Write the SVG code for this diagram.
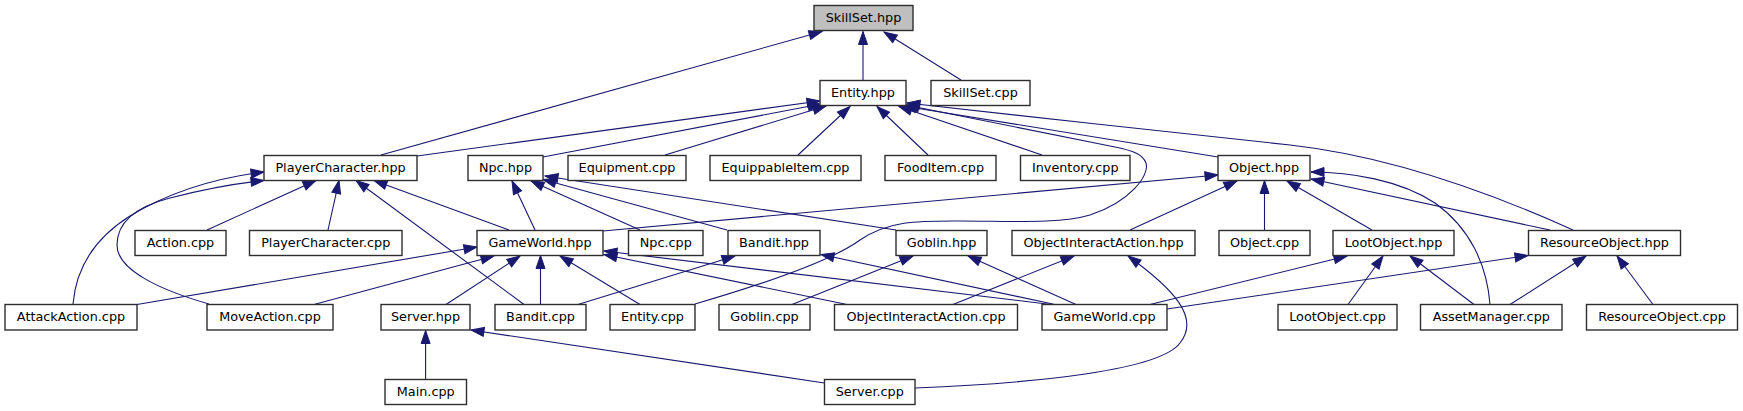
<svg xmlns="http://www.w3.org/2000/svg" width="1743" height="411" viewBox="0 0 1743 411">
<style>
.n rect{fill:#ffffff;stroke:#2e2e2e;stroke-width:1.4}
.n.root rect{fill:#bfbfbf}
.n text{font-family:"DejaVu Sans","Liberation Sans",sans-serif;font-size:12.8px;fill:#000;text-anchor:middle}
.e path{fill:none;stroke:#191970;stroke-width:1.1;marker-end:url(#ah)}
</style>
<defs>
<marker id="ah" markerUnits="userSpaceOnUse" markerWidth="16" markerHeight="12" refX="13" refY="4.5" orient="auto" overflow="visible">
<path d="M0,0 L13,4.5 L0,9 Z" fill="#191970" stroke="#191970" stroke-width="1"/>
</marker>
</defs>
<rect width="1743" height="411" fill="#ffffff"/>
<g id="edges" class="e">
<path d="M863,80 L863,31.5"/>
<path d="M961,80 L884,32"/>
<path d="M381,155 L822,31.5"/>
<path d="M417,156 L820,101"/>
<path d="M543,157 L821,104"/>
<path d="M665,155 L826,106"/>
<path d="M798,155 L850,106.5"/>
<path d="M928,155 L877,106.5"/>
<path d="M1042,155 L899,106.5"/>
<path d="M1218,157 L903,106"/>
<path d="M695,304 C760,285 830,262 860,240 C890,220 920,221 960,221 C1010,221 1060,224 1090,215 C1130,202 1150,175 1146,163 C1143,155 1135,151 1115,147 L906,105"/>
<path d="M1573,230 C1480,188 1380,155 1290,145 C1200,135 1000,114 907,103"/>
<path d="M207,230 L316,180.5"/>
<path d="M328,230 L339,180.5"/>
<path d="M524,304.5 L356,180.5"/>
<path d="M509,230 L374,180.5"/>
<path d="M73,304 C76,268 95,238 130,216 C168,193 215,178 264,172"/>
<path d="M209,304 C160,290 117,270 117,245 C117,222 135,207 170,198 C205,189 240,183 264,180.5"/>
<path d="M535,230 L512,181"/>
<path d="M640,230 L531,181"/>
<path d="M727,230 L543,179.5"/>
<path d="M896,230 L545,176"/>
<path d="M603,231 L1218,175"/>
<path d="M137,304.5 L477,247"/>
<path d="M314,304.5 L494,256"/>
<path d="M446,304.5 L520,256"/>
<path d="M540.5,304.5 L540.5,255.5"/>
<path d="M640,304.5 L560,256"/>
<path d="M847,304.5 L604,254.5"/>
<path d="M1051,304.5 L604,251"/>
<path d="M578,304.5 L735,256"/>
<path d="M1055,304.5 L821,254.5"/>
<path d="M792,304.5 L913,256"/>
<path d="M1076,304.5 L968,256"/>
<path d="M1130,230 L1237,181"/>
<path d="M953,304.5 L1074,256"/>
<path d="M915,388 C1040,383 1160,370 1180,343 C1200,318 1175,290 1128,256"/>
<path d="M1264.5,230 L1264.5,180.5"/>
<path d="M1372,230 L1287,181"/>
<path d="M1550,230 L1311,179"/>
<path d="M1490,304.5 C1487,265 1470,228 1435,203 C1400,180 1350,172 1311,172"/>
<path d="M1150,304.5 L1347,256"/>
<path d="M1348,304.5 L1383,256"/>
<path d="M1474,304.5 L1410,256"/>
<path d="M1167,309 L1528,255.5"/>
<path d="M1510,304.5 L1586,256"/>
<path d="M1653,304.5 L1617,256"/>
<path d="M425.6,379.5 L425.6,330.5"/>
<path d="M824.5,383 L471,330"/>
</g>
<g id="n_skillset_hpp" class="n root"><rect x="814" y="5.5" width="99" height="25"/><text x="863.5" y="22">SkillSet.hpp</text></g>
<g id="n_entity_hpp" class="n"><rect x="820" y="80.5" width="86" height="25"/><text x="863" y="97">Entity.hpp</text></g>
<g id="n_skillset_cpp" class="n"><rect x="931" y="80.5" width="99" height="25"/><text x="980.5" y="97">SkillSet.cpp</text></g>
<g id="n_playercharacter_hpp" class="n"><rect x="264" y="155.5" width="153" height="25"/><text x="340.5" y="172">PlayerCharacter.hpp</text></g>
<g id="n_npc_hpp" class="n"><rect x="468" y="155.5" width="75" height="25"/><text x="505.5" y="172">Npc.hpp</text></g>
<g id="n_equipment_cpp" class="n"><rect x="568" y="155.5" width="118" height="25"/><text x="627" y="172">Equipment.cpp</text></g>
<g id="n_equippableitem_cpp" class="n"><rect x="710" y="155.5" width="151" height="25"/><text x="785.5" y="172">EquippableItem.cpp</text></g>
<g id="n_fooditem_cpp" class="n"><rect x="885" y="155.5" width="111" height="25"/><text x="940.5" y="172">FoodItem.cpp</text></g>
<g id="n_inventory_cpp" class="n"><rect x="1020.5" y="155.5" width="109.5" height="25"/><text x="1075.25" y="172">Inventory.cpp</text></g>
<g id="n_object_hpp" class="n"><rect x="1218" y="155.5" width="92" height="25"/><text x="1264" y="172">Object.hpp</text></g>
<g id="n_action_cpp" class="n"><rect x="135" y="230.5" width="91" height="25"/><text x="180.5" y="247">Action.cpp</text></g>
<g id="n_playercharacter_cpp" class="n"><rect x="249.5" y="230.5" width="152.5" height="25"/><text x="325.75" y="247">PlayerCharacter.cpp</text></g>
<g id="n_gameworld_hpp" class="n"><rect x="477" y="230.5" width="126" height="25"/><text x="540" y="247">GameWorld.hpp</text></g>
<g id="n_npc_cpp" class="n"><rect x="628.5" y="230.5" width="74.5" height="25"/><text x="665.75" y="247">Npc.cpp</text></g>
<g id="n_bandit_hpp" class="n"><rect x="728" y="230.5" width="92" height="25"/><text x="774" y="247">Bandit.hpp</text></g>
<g id="n_goblin_hpp" class="n"><rect x="896" y="230.5" width="91" height="25"/><text x="941.5" y="247">Goblin.hpp</text></g>
<g id="n_objectinteractaction_hpp" class="n"><rect x="1012" y="230.5" width="183" height="25"/><text x="1103.5" y="247">ObjectInteractAction.hpp</text></g>
<g id="n_object_cpp" class="n"><rect x="1219" y="230.5" width="91" height="25"/><text x="1264.5" y="247">Object.cpp</text></g>
<g id="n_lootobject_hpp" class="n"><rect x="1333" y="230.5" width="121" height="25"/><text x="1393.5" y="247">LootObject.hpp</text></g>
<g id="n_resourceobject_hpp" class="n"><rect x="1528.5" y="230.5" width="152" height="25"/><text x="1604.5" y="247">ResourceObject.hpp</text></g>
<g id="n_attackaction_cpp" class="n"><rect x="5" y="304.5" width="132" height="25.5"/><text x="71" y="321">AttackAction.cpp</text></g>
<g id="n_moveaction_cpp" class="n"><rect x="207" y="304.5" width="126" height="25.5"/><text x="270" y="321">MoveAction.cpp</text></g>
<g id="n_server_hpp" class="n"><rect x="381" y="304.5" width="89" height="25.5"/><text x="425.5" y="321">Server.hpp</text></g>
<g id="n_bandit_cpp" class="n"><rect x="495" y="304.5" width="91" height="25.5"/><text x="540.5" y="321">Bandit.cpp</text></g>
<g id="n_entity_cpp" class="n"><rect x="610" y="304.5" width="85" height="25.5"/><text x="652.5" y="321">Entity.cpp</text></g>
<g id="n_goblin_cpp" class="n"><rect x="719" y="304.5" width="91" height="25.5"/><text x="764.5" y="321">Goblin.cpp</text></g>
<g id="n_objectinteractaction_cpp" class="n"><rect x="834.5" y="304.5" width="183" height="25.5"/><text x="926" y="321">ObjectInteractAction.cpp</text></g>
<g id="n_gameworld_cpp" class="n"><rect x="1042" y="304.5" width="125" height="25.5"/><text x="1104.5" y="321">GameWorld.cpp</text></g>
<g id="n_lootobject_cpp" class="n"><rect x="1278" y="304.5" width="119" height="25.5"/><text x="1337.5" y="321">LootObject.cpp</text></g>
<g id="n_assetmanager_cpp" class="n"><rect x="1420.5" y="304.5" width="141.5" height="25.5"/><text x="1491.25" y="321">AssetManager.cpp</text></g>
<g id="n_resourceobject_cpp" class="n"><rect x="1586.5" y="304.5" width="151" height="25.5"/><text x="1662" y="321">ResourceObject.cpp</text></g>
<g id="n_main_cpp" class="n"><rect x="385" y="379.5" width="81.5" height="25"/><text x="425.75" y="396">Main.cpp</text></g>
<g id="n_server_cpp" class="n"><rect x="824.5" y="379.5" width="90.5" height="25"/><text x="869.75" y="396">Server.cpp</text></g>
</svg>
